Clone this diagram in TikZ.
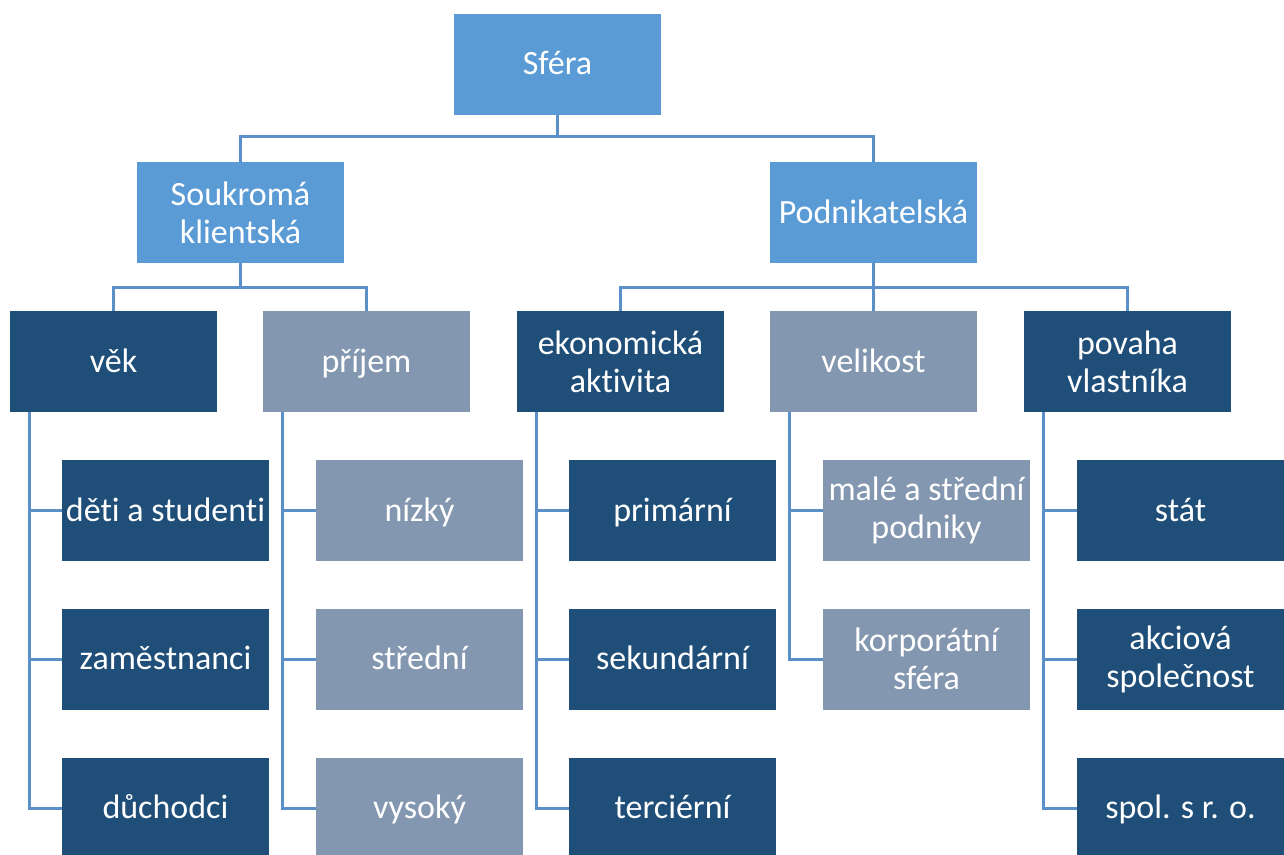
\documentclass[tikz,border=0pt]{standalone}
\usepackage{fontspec}
\setmainfont[Ligatures={NoCommon}]{Carlito}
\definecolor{topblue}{HTML}{5B9BD5}
\definecolor{darkblue}{HTML}{1F4E79}
\definecolor{grayblue}{HTML}{8497B0}
\definecolor{linkblue}{HTML}{5B8FC9}
\begin{document}
\begin{tikzpicture}[x=1pt,y=-1pt,
  box/.style={minimum width=207pt,minimum height=101pt,inner sep=0pt,align=center,text=white,
    font=\fontsize{34}{38}\selectfont},
  one/.style={text height=29pt,text depth=8pt},
  topbox/.style={box,fill=topblue},
  darkbox/.style={box,fill=darkblue},
  graybox/.style={box,fill=grayblue},
  link/.style={draw=linkblue,line width=3pt}]
\useasboundingbox (0,0) rectangle (1284,854);
% level 0/1
\node[topbox,one] (sfera) at (557.5,64) {Sféra};
\node[topbox] (souk) at (240.5,212.5) {Soukromá\\klientská};
\node[topbox,one] (podn) at (873.5,212.5) {Podnikatelská};
% level 2
\node[darkbox,one] (vek) at (113.5,361.5) {věk};
\node[graybox,one] (prijem) at (366.5,361.5) {příjem};
\node[darkbox] (ekon) at (620.5,361.5) {ekonomická\\aktivita};
\node[graybox,one] (velik) at (873.5,361.5) {velikost};
\node[darkbox] (povaha) at (1127.5,361.5) {povaha\\vlastníka};
% level 3
\node[darkbox,one] (deti) at (165.5,510.5) {děti a studenti};
\node[darkbox,one] (zam) at (165.5,659) {zaměstnanci};
\node[darkbox,one] (duch) at (165.5,808) {důchodci};
\node[graybox,one] (nizky) at (419.5,510.5) {nízký};
\node[graybox,one] (stredni) at (419.5,659) {střední};
\node[graybox,one] (vysoky) at (419.5,808) {vysoký};
\node[darkbox,one] (prim) at (672.5,510.5) {primární};
\node[darkbox,one] (sek) at (672.5,659) {sekundární};
\node[darkbox,one] (terc) at (672.5,808) {terciérní};
\node[graybox] (male) at (926.5,510.5) {malé a střední\\podniky};
\node[graybox] (korp) at (926.5,659) {korporátní\\sféra};
\node[darkbox,one] (stat) at (1180.5,510.5) {stát};
\node[darkbox] (akc) at (1180.5,659) {akciová\\společnost};
\node[darkbox,one] (spol) at (1180.5,808) {spol. s r. o.};
% tree connectors
\draw[link] (sfera.south) -- ++(0,22) -| (souk.north);
\draw[link] (sfera.south) -- ++(0,22) -| (podn.north);
\draw[link] (souk.south) -- ++(0,24) -| (vek.north);
\draw[link] (souk.south) -- ++(0,24) -| (prijem.north);
\draw[link] (podn.south) -- ++(0,24) -| (ekon.north);
\draw[link] (podn.south) -- ++(0,24) -| (velik.north);
\draw[link] (podn.south) -- ++(0,24) -| (povaha.north);
% side connectors
\foreach \p/\c in {vek/deti,vek/zam,vek/duch,prijem/nizky,prijem/stredni,prijem/vysoky,
  ekon/prim,ekon/sek,ekon/terc,velik/male,velik/korp,povaha/stat,povaha/akc,povaha/spol}{
  \draw[link] ([xshift=20pt]\p.south west) |- (\c.west);
}
\end{tikzpicture}
\end{document}
